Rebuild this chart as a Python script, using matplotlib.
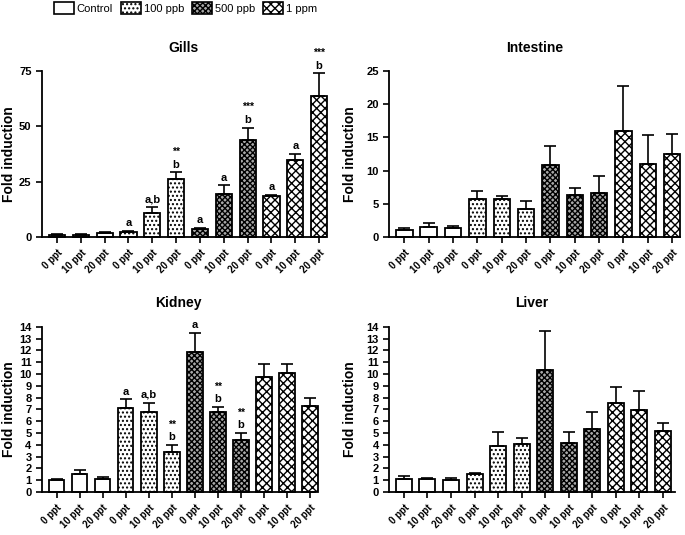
import matplotlib
matplotlib.use("Agg")
import matplotlib.pyplot as plt
from matplotlib.patches import Patch

plt.rcParams['font.family'] = ['Liberation Sans', 'DejaVu Sans']
plt.rcParams['hatch.linewidth'] = 1.0

categories = ["0 ppt", "10 ppt", "20 ppt"] * 4
groups = ["Control", "100 ppb", "500 ppb", "1 ppm"]

gills = [1.0, 1.0, 1.8, 2.3, 10.8, 26.3, 3.6, 19.3, 43.7, 18.4, 34.8, 63.6]
gills_err = [0.2, 0.2, 0.4, 0.5, 2.7, 2.9, 0.5, 4.0, 5.8, 0.8, 2.7, 10.4]
gills_sig = ["", "", "", "a", "a,b", "b", "a", "a", "b", "a", "a", "b"]
gills_star = ["", "", "", "", "", "**", "", "", "***", "", "", "***"]

intestine = [1.0, 1.46, 1.3, 5.8, 5.8, 4.2, 10.9, 6.3, 6.7, 16.0, 11.0, 12.5]
intestine_err = [0.4, 0.6, 0.4, 1.2, 0.4, 1.3, 2.8, 1.1, 2.5, 6.8, 4.4, 3.1]

kidney = [1.05, 1.5, 1.07, 7.1, 6.8, 3.42, 11.88, 6.8, 4.44, 9.76, 10.12, 7.27]
kidney_err = [0.03, 0.34, 0.2, 0.76, 0.78, 0.57, 1.62, 0.4, 0.56, 1.07, 0.71, 0.7]
kidney_sig = ["", "", "", "a", "a,b", "b", "a", "b", "b", "", "", ""]
kidney_star = ["", "", "", "", "", "**", "", "**", "**", "", "", ""]

liver = [1.13, 1.07, 1.05, 1.5, 3.9, 4.1, 10.38, 4.16, 5.32, 7.52, 6.99, 5.18]
liver_err = [0.2, 0.13, 0.14, 0.14, 1.19, 0.5, 3.31, 0.93, 1.47, 1.42, 1.58, 0.67]

styles = {
    "Control": dict(facecolor="white", hatch=None),
    "100 ppb": dict(facecolor="white", hatch="...."),
    "500 ppb": dict(facecolor="#a8a8a8", hatch="xxxxxx"),
    "1 ppm": dict(facecolor="white", hatch="xxxx"),
}

W, H = 685, 535
fig = plt.figure(figsize=(6.85, 5.35), dpi=100)

def panel(rect, label_x_px, title, vals, errs, ymax, yticks, xlim_right, sig=None, star=None):
    ax = fig.add_axes(rect)
    x = list(range(len(vals)))
    for i, (v, e) in enumerate(zip(vals, errs)):
        g = groups[i // 3]
        st = styles[g]
        ax.bar(i, v, width=0.68, facecolor=st["facecolor"], edgecolor="black",
               hatch=st["hatch"], linewidth=1.3, zorder=2, clip_on=False)
        ax.errorbar(i, v, yerr=[[0], [e]], fmt="none", ecolor="black",
                    elinewidth=1.2, capsize=4, capthick=1.2, zorder=3, clip_on=False)
        if sig and sig[i]:
            ax.annotate(sig[i], (i, v + e), xytext=(0, 2), textcoords="offset points",
                        ha="center", va="bottom", fontsize=8, fontweight="bold",
                        annotation_clip=False)
        if star and star[i]:
            ax.annotate(star[i], (i, v + e), xytext=(0, 11), textcoords="offset points",
                        ha="center", va="bottom", fontsize=7.5, fontweight="bold",
                        annotation_clip=False)
    ax.set_xlim(-0.63, xlim_right)
    ax.set_ylim(0, ymax)
    ax.set_yticks(yticks)
    ax.set_xticks(x)
    ax.set_xticklabels(categories, rotation=45, ha="right", rotation_mode="anchor",
                       fontsize=7, fontweight="bold")
    for lab in ax.get_yticklabels():
        lab.set_fontweight("bold")
        lab.set_fontsize(8)
    ax.spines["top"].set_visible(False)
    ax.spines["right"].set_visible(False)
    ax.spines["left"].set_linewidth(1.3)
    ax.spines["bottom"].set_linewidth(1.3)
    ax.tick_params(direction="out", length=4, width=1.2)
    ax.set_ylabel("Fold induction", fontsize=10, fontweight="bold")
    ax.yaxis.set_label_coords((label_x_px / W - rect[0]) / rect[2], 0.5)
    ax.set_title(title, fontsize=10, fontweight="bold", pad=14)
    return ax

panel([0.0613, 0.557, 0.4132, 0.31], 16, "Gills", gills, gills_err, 75, [0, 25, 50, 75], 11.25,
      gills_sig, gills_star)
panel([0.568, 0.557, 0.425, 0.31], 357, "Intestine", intestine, intestine_err, 25,
      [0, 5, 10, 15, 20, 25], 11.33)
panel([0.0613, 0.0804, 0.3987, 0.3086], 16, "Kidney", kidney, kidney_err, 14, list(range(15)), 11.22,
      kidney_sig, kidney_star)
panel([0.568, 0.0804, 0.417, 0.3086], 357, "Liver", liver, liver_err, 14, list(range(15)), 11.5)

handles = [Patch(facecolor=styles[g]["facecolor"], edgecolor="black",
                 hatch=styles[g]["hatch"], linewidth=1.2, label=g) for g in groups]
fig.legend(handles=handles, loc="upper left", bbox_to_anchor=(0.077, 0.998), ncol=4,
           frameon=False, fontsize=8, handlelength=1.8, handleheight=1.2,
           handletextpad=0.27, columnspacing=0.7, borderpad=0.1, borderaxespad=0)

fig.savefig("out.png", dpi=100)
